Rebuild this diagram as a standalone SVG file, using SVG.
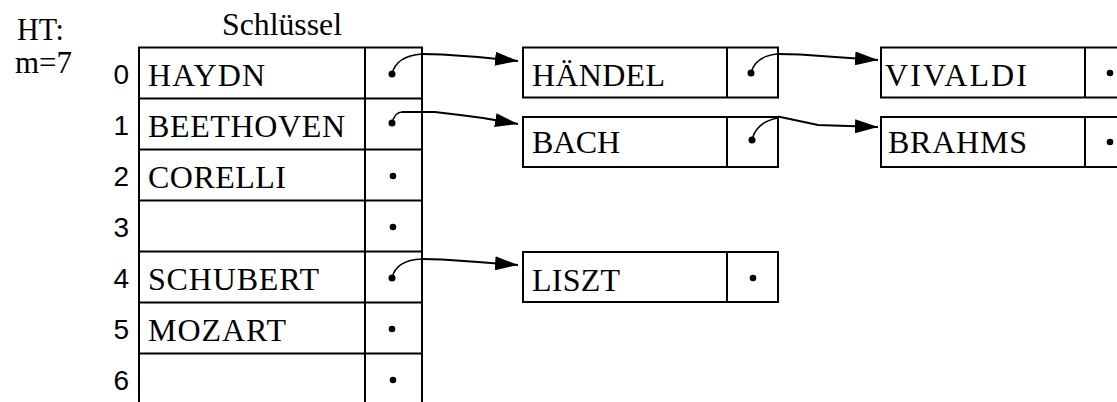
<svg xmlns="http://www.w3.org/2000/svg" width="1117" height="402" viewBox="0 0 1117 402">
<style>
.box{fill:#fff;stroke:#000;stroke-width:2}
.ln{stroke:#000;stroke-width:2;fill:none}
.nm{font-family:"Liberation Serif","Times New Roman",serif;font-size:32px;fill:#000}
.lb{font-family:"Liberation Serif","Times New Roman",serif;font-size:31px;fill:#000}
.ix{font-family:"Liberation Sans",Arial,sans-serif;font-size:28px;fill:#000;text-anchor:end}
.dot{fill:#000}
.cv{stroke:#000;stroke-width:1.5;fill:none}
.ar{stroke:#000;stroke-width:2;fill:none;marker-end:url(#ah)}
</style>
<defs>
<marker id="ah" markerUnits="userSpaceOnUse" markerWidth="24" markerHeight="14" refX="23" refY="7" orient="auto">
<path d="M0,0 L23,7 L0,14 Z" fill="#000"/>
</marker>
</defs>
<rect width="1117" height="402" fill="#fff"/>
<text class="lb" x="17" y="40" textLength="47" lengthAdjust="spacingAndGlyphs">HT:</text>
<text class="lb" x="15" y="73" textLength="57" lengthAdjust="spacingAndGlyphs">m=7</text>
<text class="lb" x="222" y="35" textLength="120" lengthAdjust="spacingAndGlyphs">Schlüssel</text>
<g id="ht">
<path class="ln" d="M139,406 V47.5 H422 V406 M365,47.5 V406 M139,98.5 H422 M139,149.5 H422 M139,200.5 H422 M139,251.5 H422 M139,302.5 H422 M139,353.5 H422"/>
<g id="row0"><text class="ix" x="129" y="84">0</text><text class="nm" x="148" y="86" textLength="117" lengthAdjust="spacing">HAYDN</text><circle class="dot" cx="392" cy="74" r="3.5"/></g>
<g id="row1"><text class="ix" x="129" y="135">1</text><text class="nm" x="148" y="137" textLength="197" lengthAdjust="spacing">BEETHOVEN</text><circle class="dot" cx="392" cy="123" r="3.5"/></g>
<g id="row2"><text class="ix" x="129" y="186">2</text><text class="nm" x="148" y="188" textLength="138" lengthAdjust="spacing">CORELLI</text><circle class="dot" cx="393" cy="176" r="3.3"/></g>
<g id="row3"><text class="ix" x="129" y="237">3</text><circle class="dot" cx="393" cy="227" r="3.3"/></g>
<g id="row4"><text class="ix" x="129" y="288">4</text><text class="nm" x="148" y="290" textLength="171" lengthAdjust="spacing">SCHUBERT</text><circle class="dot" cx="392" cy="278" r="3.5"/></g>
<g id="row5"><text class="ix" x="129" y="339">5</text><text class="nm" x="148" y="341" textLength="138" lengthAdjust="spacing">MOZART</text><circle class="dot" cx="392" cy="329" r="3.3"/></g>
<g id="row6"><text class="ix" x="129" y="390">6</text><circle class="dot" cx="393" cy="380" r="3.3"/></g>
</g>
<g id="haendel">
<rect class="box" x="523" y="47.5" width="255" height="50"/><path class="ln" d="M727,47.5 V97.5"/>
<text class="nm" x="532" y="86" textLength="133" lengthAdjust="spacing">HÄNDEL</text>
<circle class="dot" cx="751" cy="73" r="3.5"/>
</g>
<g id="bach">
<rect class="box" x="523" y="117" width="255" height="50"/><path class="ln" d="M727,117 V167"/>
<text class="nm" x="532" y="153" textLength="88" lengthAdjust="spacing">BACH</text>
<circle class="dot" cx="752" cy="140" r="3.5"/>
</g>
<g id="liszt">
<rect class="box" x="523" y="252" width="255" height="50"/><path class="ln" d="M727,252 V302"/>
<text class="nm" x="532" y="291" textLength="88" lengthAdjust="spacing">LISZT</text>
<circle class="dot" cx="753" cy="278" r="3.3"/>
</g>
<g id="vivaldi">
<rect class="box" x="881" y="47.5" width="260" height="50"/><path class="ln" d="M1085,47.5 V97.5"/>
<text class="nm" x="885" y="86" textLength="142" lengthAdjust="spacing">VIVALDI</text>
<circle class="dot" cx="1110" cy="73" r="3.3"/>
</g>
<g id="brahms">
<rect class="box" x="881" y="117" width="260" height="50"/><path class="ln" d="M1085,117 V167"/>
<text class="nm" x="888" y="153" textLength="139" lengthAdjust="spacing">BRAHMS</text>
<circle class="dot" cx="1110" cy="142" r="3.3"/>
</g>
<g id="connectors">
<path class="cv" d="M392,74 Q396,56 422,54"/>
<path class="ar" d="M422,54 L442,54.5 L478,57 L518,61"/>
<path class="cv" d="M392,123 Q395,112 402,112"/>
<path class="ar" d="M402,112 L435,112 L460,115 L483,118 L518,124"/>
<path class="cv" d="M392,278 Q396,260 422,259"/>
<path class="ar" d="M422,259 L442,259.5 L478,262 L518,265"/>
<path class="cv" d="M751,73 Q755,56 778,54"/>
<path class="ar" d="M778,54 L800,54.5 L835,57 L878,60"/>
<path class="cv" d="M752,140 Q756,122 778,118"/>
<path class="ar" d="M778,116.5 L818,125 L878,127"/>
</g>
</svg>
